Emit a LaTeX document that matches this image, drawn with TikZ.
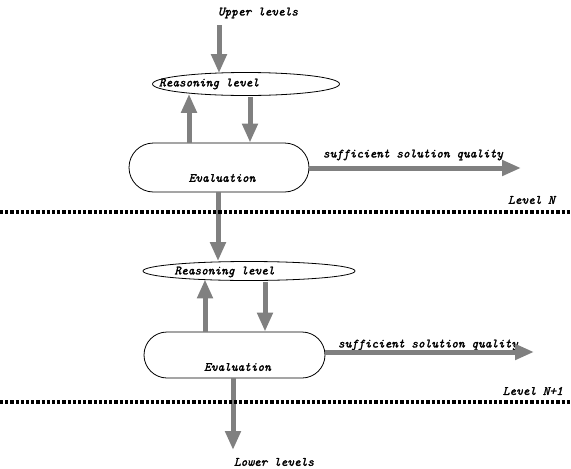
\documentclass[tikz,border=0pt]{standalone}
\usepackage{fontspec}
\newfontfamily\lblfont{lmmono10-italic.otf}[FakeBold=1.8]
\usetikzlibrary{arrows.meta,shapes.geometric,shapes.misc}
\definecolor{arrgray}{RGB}{128,128,128}
\tikzset{
  x=1pt,y=-1pt,
  lbl/.style={font=\fontsize{12.7}{15}\selectfont\lblfont, inner sep=0pt},
  arr/.style={draw=arrgray, line width=5pt, -{Triangle[width=15pt,length=19pt]}},
  reason/.style={draw, line width=0.8pt, ellipse, inner sep=0pt, minimum width=187pt, minimum height=23pt},
  evalbox/.style={draw, line width=0.8pt, rounded rectangle, inner sep=0pt, minimum width=180pt, minimum height=49pt},
  sep/.style={line width=4.5pt, dash pattern=on 3.2pt off 2pt}
}
\begin{document}
\begin{tikzpicture}
\useasboundingbox (0,0) rectangle (571,469);
% top
\node[lbl] (up) at (258,13) {Upper levels};
\coordinate (upstart) at (219,25);
\node[reason] (r1) at (246,84) {};
\node[lbl] (r1t) at (209,84) {Reasoning level};
\node[evalbox] (e1) at (219,167.5) {};
\node[lbl] (e1t) at (222,178) {Evaluation};
\coordinate (q1) at (521,168);
\node[lbl] (s1) at (413,155) {sufficient solution quality};
\coordinate (l1a) at (0,212);
\coordinate (l1b) at (571,212);
\node[lbl, anchor=east] (n1) at (555,200) {Level N};
% second level
\node[reason, minimum width=212pt, minimum height=19pt] (r2) at (249,271) {};
\node[lbl] (r2t) at (224.5,272) {Reasoning level};
\node[evalbox, minimum width=181pt, minimum height=46pt] (e2) at (234.5,355) {};
\node[lbl] (e2t) at (237.5,367) {Evaluation};
\coordinate (q2) at (534,352);
\node[lbl] (s2) at (428,345) {sufficient solution quality};
\coordinate (l2a) at (0,402);
\coordinate (l2b) at (571,402);
\node[lbl, anchor=east] (n2) at (563,391) {Level N+1};
\node[lbl] (low) at (274,462) {Lower levels};
\coordinate (lowtip) at (233,450);
% arrows
\draw[arr] (upstart) -- ([xshift=-27pt,yshift=-1pt]r1.north);
\draw[arr] ([xshift=-30pt]e1.north) -- ([xshift=-57pt,yshift=2pt]r1.south);
\draw[arr] ([xshift=4pt,yshift=-1pt]r1.south) -- ([xshift=31pt]e1.north);
\draw[arr] (e1.east |- q1) -- (q1);
\draw[arr] ([xshift=-1pt]e1.south) -- ([xshift=-31pt]r2.north);
\draw[arr] ([xshift=-29.5pt]e2.north) -- ([xshift=-44pt,yshift=1.5pt]r2.south);
\draw[arr] ([xshift=16pt,yshift=-1pt]r2.south) -- ([xshift=30.5pt]e2.north);
\draw[arr] (e2.east |- q2) -- (q2);
\draw[arr] ([xshift=-1.5pt]e2.south) -- (lowtip);
% level separators
\draw[sep] (l1a) -- (l1b);
\draw[sep] (l2a) -- (l2b);
\end{tikzpicture}
\end{document}
